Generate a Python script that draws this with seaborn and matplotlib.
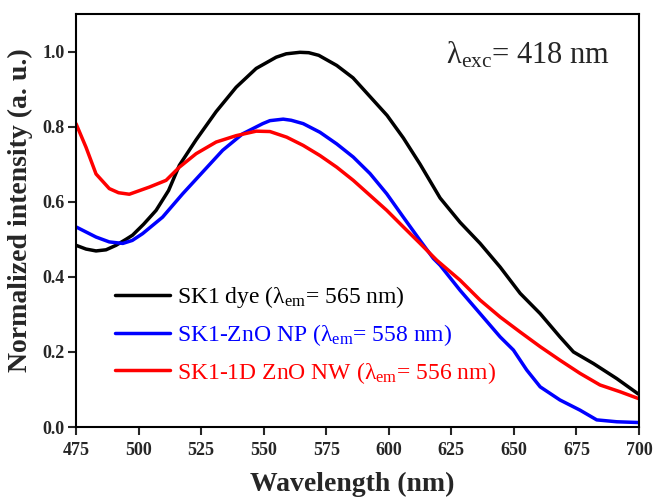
import numpy as np
import pandas as pd
import matplotlib
matplotlib.use("Agg")
import matplotlib.pyplot as plt
import seaborn as sns

# Data
wl_dye = [475, 479, 483, 487, 491, 495, 497.6, 502, 507, 512, 516.3, 523, 531, 539, 547, 555, 559, 564.5, 568, 572, 579.2, 585.7, 592.5, 599.3, 605.8, 612.5, 620.5, 628.5, 636.5, 644.5, 652.5, 660.5, 668.4, 673.8, 681.8, 691.1, 699.7]
int_dye = [0.484, 0.474, 0.469, 0.472, 0.484, 0.500, 0.511, 0.540, 0.577, 0.630, 0.697, 0.765, 0.840, 0.905, 0.955, 0.985, 0.994, 0.998, 0.997, 0.99, 0.963, 0.93, 0.88, 0.83, 0.77, 0.70, 0.61, 0.545, 0.489, 0.426, 0.356, 0.302, 0.24, 0.20, 0.169, 0.129, 0.088]

wl_np = [475, 483, 488.3, 493.7, 497.5, 501.6, 509.6, 517.6, 525.6, 533.6, 541.6, 549.6, 552.5, 557.8, 561, 565.8, 572.5, 579.2, 585.8, 592.5, 599.2, 605.8, 612.5, 617.8, 620.5, 628.5, 636.5, 644.5, 649.8, 655.1, 660.5, 668.4, 676.4, 683.1, 691.1, 699.7]
int_np = [0.533, 0.506, 0.493, 0.489, 0.497, 0.515, 0.559, 0.621, 0.679, 0.737, 0.781, 0.808, 0.816, 0.820, 0.817, 0.808, 0.785, 0.754, 0.719, 0.675, 0.621, 0.559, 0.497, 0.449, 0.431, 0.364, 0.302, 0.24, 0.205, 0.152, 0.107, 0.072, 0.045, 0.019, 0.014, 0.012]

wl_nw = [475, 479, 483, 488.3, 492, 496.3, 504.3, 511, 516.3, 523, 531, 539, 547, 552.5, 559.2, 565.8, 572.5, 579.2, 585.8, 592.5, 599.2, 605.8, 612.5, 619.2, 628.5, 636.5, 644.5, 652.5, 660.5, 668.4, 676.4, 684.4, 692.4, 699.7]
int_nw = [0.808, 0.745, 0.674, 0.635, 0.624, 0.620, 0.639, 0.657, 0.692, 0.728, 0.759, 0.776, 0.788, 0.787, 0.772, 0.75, 0.723, 0.692, 0.657, 0.617, 0.577, 0.533, 0.489, 0.444, 0.391, 0.338, 0.293, 0.253, 0.214, 0.178, 0.143, 0.112, 0.094, 0.076]

labels = [r"SK1 dye ($\mathrm{\lambda}_{\mathrm{em}}$= 565 nm)",
          r"SK1-ZnO NP ($\mathrm{\lambda}_{\mathrm{em}}$= 558 nm)",
          r"SK1-1D ZnO NW ($\mathrm{\lambda}_{\mathrm{em}}$= 556 nm)"]
colors = ["#000000", "#0000ff", "#ff0000"]

frames = []
for wl, it, lab in zip([wl_dye, wl_np, wl_nw], [int_dye, int_np, int_nw], labels):
    frames.append(pd.DataFrame({"Wavelength": wl, "Intensity": it, "Sample": lab}))
df = pd.concat(frames, ignore_index=True)

sns.set_style("ticks")
plt.rcParams["font.family"] = ["Liberation Serif", "DejaVu Serif"]
plt.rcParams["mathtext.fontset"] = "custom"
plt.rcParams["mathtext.rm"] = "Liberation Serif"
plt.rcParams["mathtext.it"] = "Liberation Serif"
plt.rcParams["mathtext.bf"] = "Liberation Serif:bold"

fig = plt.figure(figsize=(6.53, 4.97), dpi=100)
ax = fig.add_axes([0.1164, 0.1408, 0.8622, 0.831])

sns.lineplot(data=df, x="Wavelength", y="Intensity", hue="Sample",
             palette=dict(zip(labels, colors)), linewidth=2.5, ax=ax,
             sort=False, estimator=None)

ax.set_xlim(475, 700)
ax.set_ylim(0, 1.1)
ax.set_xticks([475, 500, 525, 550, 575, 600, 625, 650, 675, 700])
ax.set_yticks([0.0, 0.2, 0.4, 0.6, 0.8, 1.0])
ax.set_yticklabels(["0.0", "0.2", "0.4", "0.6", "0.8", "1.0"])
for lab in ax.get_xticklabels() + ax.get_yticklabels():
    lab.set_fontweight("bold")
    lab.set_fontsize(13)
ax.tick_params(axis="both", direction="out", length=6, width=1.5, top=False, right=False)
ax.tick_params(axis="x", pad=5)
ax.tick_params(axis="y", pad=2)
for s in ax.spines.values():
    s.set_visible(True)
    s.set_linewidth(1.5)
    s.set_color("black")

ax.set_xlabel("Wavelength (nm)", fontsize=20, fontweight="bold")
ax.xaxis.set_label_coords(0.49, -0.108)
ax.set_ylabel("Normalized intensity (a. u.)", fontsize=20, fontweight="bold")
ax.yaxis.set_label_coords(-0.076, 0.525)

ax.text(0.948, 0.881, r"$\mathrm{\lambda}_{\mathrm{exc}}$= 418 nm", transform=ax.transAxes,
        ha="right", va="baseline", fontsize=22)

leg = ax.legend(loc="center left", bbox_to_anchor=(0.053, 0.223), frameon=False,
                fontsize=17, handlelength=2.3, handletextpad=0.3, labelspacing=0.5,
                borderaxespad=0)
for txt, c in zip(leg.get_texts(), colors):
    txt.set_color(c)
for line in leg.get_lines():
    line.set_linewidth(2.5)

fig.savefig("out.png", dpi=100)
